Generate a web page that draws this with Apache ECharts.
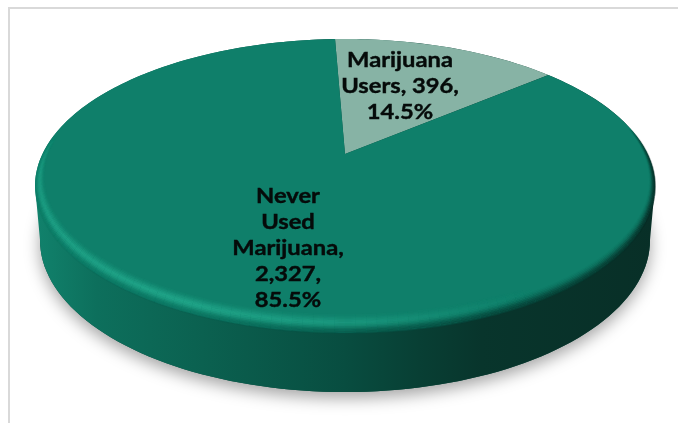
<!DOCTYPE html>
<html>
<head>
<meta charset="utf-8">
<style>
  html, body { margin: 0; padding: 0; background: #fff; }
  #chart { width: 678px; height: 423px; }
</style>
<script src="https://cdn.jsdelivr.net/npm/echarts@6/dist/echarts.min.js"></script>
</head>
<body>
<div id="chart"></div>
<script>
// Survey counts
const categories = ['Marijuana Users', 'Never Used Marijuana'];
const counts = [396, 2327];
const sliceLabels = ['Marijuana\nUsers, 396,\n14.5%', 'Never\nUsed\nMarijuana,\n2,327,\n85.5%'];
const sliceColors = ['#87b3a5', '#0f7f6a'];

// Disc geometry: top face, lower edge, tilt of the pie centre
const TOP = { cx: 345, cy: 186, rx: 310, ry: 147 };
const BOTTOM = { cx: 345, cy: 240, rx: 305, ry: 152 };
const TILT = -0.218;
const START_DEG = -2.3;
const LABEL_SPOTS = [[400, 86], [288, 248]];

const total = counts.reduce((a, b) => a + b, 0);
const rad = d => d * Math.PI / 180;

// Project an angle on the round pie onto the tilted elliptical face
function facePoint(deg) {
  const x = Math.sin(rad(deg)), y = -Math.cos(rad(deg));
  const w = 1 + TILT * y;
  return [
    TOP.cx + TOP.rx * x * Math.sqrt(1 - TILT * TILT) / w,
    TOP.cy + TOP.ry * (y + TILT) / w
  ];
}
const faceCentre = () => [TOP.cx, TOP.cy + TOP.ry * TILT];

// Plain ellipse arc; angles measured clockwise from the +x axis on screen
function arc(e, from, to, step) {
  const pts = [];
  const n = Math.max(2, Math.ceil(Math.abs(to - from) / (step || 2)));
  for (let i = 0; i <= n; i++) {
    const a = rad(from + (to - from) * i / n);
    pts.push([e.cx + e.rx * Math.cos(a), e.cy + e.ry * Math.sin(a)]);
  }
  return pts;
}

function wedgePoints(startDeg, sweepDeg) {
  const pts = [faceCentre()];
  const n = Math.ceil(sweepDeg);
  for (let i = 0; i <= n; i++) pts.push(facePoint(startDeg + sweepDeg * i / n));
  return pts;
}

function hGrad(stops) {
  return new echarts.graphic.LinearGradient(0, 0, 1, 0,
    stops.map(s => ({ offset: s[0], color: s[1] })));
}

// Piecewise-linear lookup used for the bevel strength around the rim
function ramp(table, v) {
  if (v <= table[0][0]) return table[0][1];
  for (let i = 1; i < table.length; i++) {
    if (v <= table[i][0]) {
      const [x0, y0] = table[i - 1], [x1, y1] = table[i];
      return y0 + (y1 - y0) * (v - x0) / (x1 - x0);
    }
  }
  return table[table.length - 1][1];
}

// Shadow on the ground and the outer wall of the disc
function renderBody() {
  const wall = arc(TOP, 180, 360).concat(arc(BOTTOM, 0, 180));
  return {
    type: 'group',
    children: [
      {
        type: 'polygon',
        shape: { points: arc(BOTTOM, 0, 360) },
        style: {
          fill: '#0a4a3e',
          shadowBlur: 16,
          shadowOffsetY: 6,
          shadowColor: 'rgba(0,0,0,0.36)'
        }
      },
      {
        type: 'polygon',
        shape: { points: wall },
        style: {
          fill: hGrad([
            [0, '#11826c'], [0.1, '#0d6f5c'], [0.27, '#0b6150'],
            [0.5, '#084d40'], [0.62, '#083f34'], [0.72, '#08352c'], [1, '#082f27']
          ])
        }
      }
    ]
  };
}

// One wedge per category, swept from its share of the total
function renderSlice(params, api) {
  const i = params.dataIndex;
  let before = 0;
  for (let k = 0; k < i; k++) before += counts[k];
  const start = START_DEG + before / total * 360;
  const sweep = api.value(0) / total * 360;
  return {
    type: 'polygon',
    shape: { points: wedgePoints(start, sweep) },
    style: { fill: sliceColors[i] }
  };
}

// Bevel along the front of the face: a soft light band on the left, shade on the right
const GLOW_PROFILE = [[0, 0], [4, 0.2], [7, 0.6], [10, 0.8], [13, 0.5], [17, 0.12], [20, 0]];
const GLOW_AROUND = [[50, 0], [75, 0.4], [90, 0.7], [120, 1], [160, 0.7], [182, 0.35], [198, 0]];
const SHADE_PROFILE = [[0, 0.95], [2, 0.85], [4, 0.62], [6, 0.36], [8, 0.16], [10, 0.05], [12, 0]];
const SHADE_AROUND = [[-24, 0], [-6, 0.5], [10, 0.8], [55, 1], [90, 0.75], [120, 0.32], [170, 0.04], [180, 0]];

function renderBevel() {
  const children = [];
  const inset = d => ({
    cx: TOP.cx,
    cy: TOP.cy - d * 0.5,
    rx: TOP.rx - d * 0.5,
    ry: TOP.ry - d * 0.5
  });
  const STEP = 2;
  for (let phi = -24; phi < 198; phi += STEP) {
    for (let d = 0; d <= 19; d += 1.5) {
      const glow = ramp(GLOW_PROFILE, d) * ramp(GLOW_AROUND, phi);
      const shade = ramp(SHADE_PROFILE, d) * ramp(SHADE_AROUND, phi);
      const seg = arc(inset(d), phi, phi + STEP, STEP);
      if (glow > 0.01) {
        children.push({
          type: 'polyline',
          shape: { points: seg },
          style: { fill: null, lineWidth: 1.7, stroke: `rgba(38,176,146,${glow.toFixed(3)})` }
        });
      }
      if (shade > 0.01) {
        const t = ramp([[0, 1], [120, 0], [200, 0]], Math.max(phi, 0));
        const g = Math.round(36 + (1 - t) * 60);
        const b = Math.round(30 + (1 - t) * 50);
        children.push({
          type: 'polyline',
          shape: { points: seg },
          style: { fill: null, lineWidth: 1.7, stroke: `rgba(6,${g},${b},${shade.toFixed(3)})` }
        });
      }
    }
  }
  return { type: 'group', children };
}

function renderLabel(params) {
  const i = params.dataIndex;
  return {
    type: 'text',
    x: LABEL_SPOTS[i][0],
    y: LABEL_SPOTS[i][1],
    scaleX: 1.13,
    style: {
      x: 0,
      y: 0,
      text: sliceLabels[i],
      align: 'center',
      verticalAlign: 'middle',
      fill: '#050a09',
      stroke: '#050a09',
      lineWidth: 0.4,
      font: 'bold 21px Lato',
      lineHeight: 26
    }
  };
}

const chart = echarts.init(document.getElementById('chart'), null, { renderer: 'canvas' });
chart.setOption({
  animation: false,
  backgroundColor: '#ffffff',
  graphic: [{
    type: 'rect',
    silent: true,
    shape: { x: 9, y: 8, width: 900, height: 900 },
    style: { fill: null, stroke: '#d9d9d9', lineWidth: 2 }
  }],
  series: [
    { type: 'custom', coordinateSystem: 'none', z: 1, silent: true, data: [total], renderItem: renderBody },
    {
      type: 'custom', coordinateSystem: 'none', z: 2, silent: true,
      data: categories.map((name, i) => ({ name, value: [counts[i]] })),
      renderItem: renderSlice
    },
    { type: 'custom', coordinateSystem: 'none', z: 3, silent: true, data: [total], renderItem: renderBevel },
    {
      type: 'custom', coordinateSystem: 'none', z: 4, silent: true,
      data: categories.map((name, i) => ({ name, value: [counts[i]] })),
      renderItem: renderLabel
    }
  ]
});
</script>
</body>
</html>
